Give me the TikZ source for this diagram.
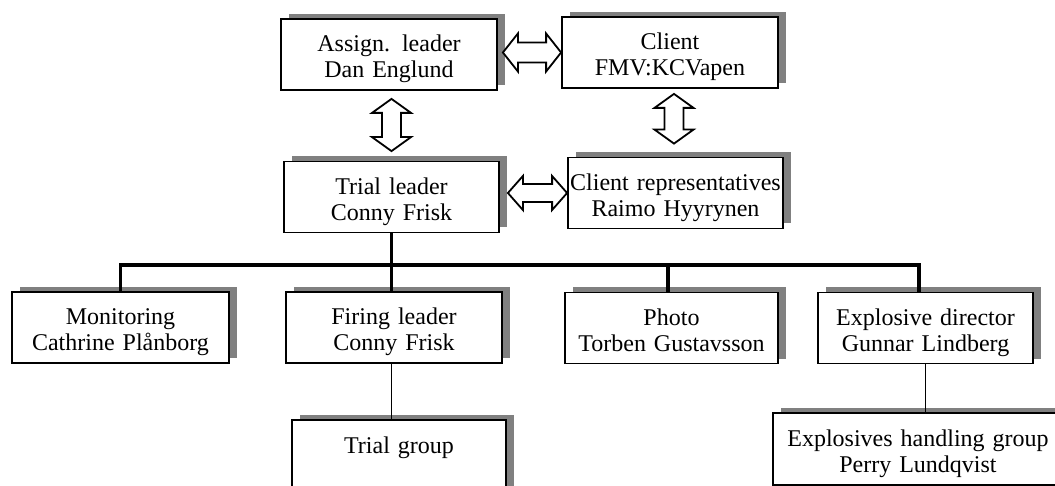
\documentclass[tikz,border=0pt]{standalone}
\usepackage{fontspec}
\setmainfont{Liberation Serif}
\usetikzlibrary{calc,shadows}
\definecolor{shadowgray}{RGB}{128,128,128}
\newcommand\hbarrow[5]{\draw[barrow] let \p1=#1, \p2=#2 in (\x1,\y1) -- (\x1+#5,\y1+#4) -- (\x1+#5,\y1+#3) -- (\x2-#5,\y1+#3) -- (\x2-#5,\y1+#4) -- (\x2,\y1) -- (\x2-#5,\y1-#4) -- (\x2-#5,\y1-#3) -- (\x1+#5,\y1-#3) -- (\x1+#5,\y1-#4) -- cycle;}
\newcommand\vbarrow[5]{\draw[barrow] let \p1=#1, \p2=#2 in (\x1,\y1) -- (\x1+#4,\y1-#5) -- (\x1+#3,\y1-#5) -- (\x1+#3,\y2+#5) -- (\x1+#4,\y2+#5) -- (\x1,\y2) -- (\x1-#4,\y2+#5) -- (\x1-#3,\y2+#5) -- (\x1-#3,\y1-#5) -- (\x1-#4,\y1-#5) -- cycle;}
\begin{document}
\begin{tikzpicture}[x=1pt,y=-1pt,
  box/.style={draw, line width=1.8pt, fill=white,
    general shadow={fill=shadowgray, shadow xshift=8pt, shadow yshift=5pt},
    minimum height=71pt, inner sep=0pt, align=center,
    text height=17pt, text depth=22pt, font=\fontsize{24}{26}\selectfont},
  bw/.style={minimum width=#1, text width=#1-4pt},
  bus/.style={line width=3.2pt, line join=miter},
  link/.style={line width=1.8pt},
  barrow/.style={draw, fill=white, line width=1.8pt, line join=miter}]
\useasboundingbox (0,0) rectangle (1055,486);
% boxes
\node[box, bw=216pt] (al) at (389,54.5) {Assign. leader\\Dan Englund};
\node[box, bw=216pt] (cl) at (670,52.5) {Client\\FMV:KCVapen};
\node[box, bw=215pt] (tl) at (391.5,197) {Trial leader\\Conny Frisk};
\node[box, bw=215pt] (cr) at (675.5,193) {Client representatives\\Raimo Hyyrynen};
\node[box, bw=217pt] (mo) at (120.5,327.5) {Monitoring\\Cathrine Plånborg};
\node[box, bw=216pt] (fl) at (394,327.5) {Firing leader\\Conny Frisk};
\node[box, bw=213pt] (ph) at (671.5,328) {Photo\\Torben Gustavsson};
\node[box, bw=215pt] (ed) at (925.5,328) {Explosive director\\Gunnar Lindberg};
\node[box, bw=214pt] (tg) at (399,455.5) {Trial group};
\node[box, bw=290pt, minimum height=72pt] (eh) at (918,449) {Explosives handling group\\Perry Lundqvist};
% connectors
\coordinate (bar) at (0,265);
\coordinate (phd) at ($(ph.north)+(-3.5,0)$);
\coordinate (edd) at ($(ed.north)+(-6.5,0)$);
\draw[bus] (mo.north) -- (mo.north |- bar) -- (edd |- bar) -- (edd);
\draw[bus] (tl.south) -- (tl.south |- fl.north);
\draw[bus] (phd |- bar) -- (phd);
\draw[link] (tl.south |- fl.south) -- (tl.south |- tg.north);
\draw[link] (ed.south) -- (ed.south |- eh.north);
% block arrows
\hbarrow{($(al.east |- cl.west)+(5,0)$)}{(cl.west)}{10pt}{19pt}{15pt}
\hbarrow{($(tl.east |- cr.west)+(8,0)$)}{(cr.west)}{9pt}{17pt}{15pt}
\vbarrow{($(tl.north |- al.south)+(0,8)$)}{($(tl.north)+(0,-9.5)$)}{9.5pt}{19.5pt}{14pt}
\vbarrow{($(cl.south)+(4,5)$)}{($(cr.north)+(-1.5,-13)$)}{9.5pt}{19.5pt}{14pt}
\end{tikzpicture}
\end{document}
